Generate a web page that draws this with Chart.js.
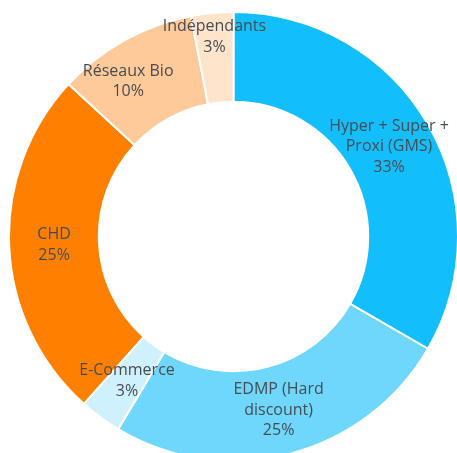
<!DOCTYPE html>
<html lang="fr">
<head>
  <meta charset="utf-8" />
  <title>Répartition des circuits de distribution</title>
  <script src="https://cdn.jsdelivr.net/npm/chart.js@4.4.1/dist/chart.umd.min.js"></script>
  <style>
    html, body { margin: 0; padding: 0; background: #fff; overflow: hidden; width: 457px; height: 453px; }
    .wrap { position: absolute; left: 8px; top: 11px; width: 451px; height: 451px; }
  </style>
</head>
<body>
  <div class="wrap"><canvas id="chart"></canvas></div>
  <script>
    // circuits, clockwise from 12 o'clock
    const categories = [
      ['Hyper + Super +', 'Proxi (GMS)'],
      ['EDMP (Hard', 'discount)'],
      ['E-Commerce'],
      ['CHD'],
      ['Réseaux Bio'],
      ['Indépendants'],
    ]
    const shares = [33, 25, 3, 25, 10, 3]
    const colors = ['#12bffc', '#6fd7fc', '#cff1fd', '#ff8000', '#ffca99', '#ffe4cc']

    // a couple of labels sit off the arc centre in the original
    const labelShift = { 4: [-18, 2], 5: [-2, -21] }

    const sliceLabels = {
      id: 'sliceLabels',
      afterDatasetsDraw(chart) {
        const { ctx } = chart
        const meta = chart.getDatasetMeta(0)
        ctx.save()
        ctx.font = '16px "Open Sans", sans-serif'
        ctx.fillStyle = '#474c52'
        ctx.textAlign = 'center'
        ctx.textBaseline = 'middle'
        meta.data.forEach((arc, i) => {
          const p = arc.getCenterPoint()
          const s = labelShift[i] || [0, 0]
          const lines = [...categories[i], shares[i] + '%']
          const lh = 20.5
          const y0 = p.y + s[1] - (lines.length - 1) * lh / 2
          lines.forEach((t, k) => ctx.fillText(t, p.x + s[0], y0 + k * lh))
        })
        ctx.restore()
      },
    }

    new Chart(document.getElementById('chart'), {
      type: 'doughnut',
      data: {
        labels: categories.map((c) => c.join(' ')),
        datasets: [{
          data: shares,
          backgroundColor: colors,
          borderColor: '#ffffff',
          borderWidth: 2,
        }],
      },
      options: {
        responsive: true,
        maintainAspectRatio: false,
        animation: false,
        cutout: '60%',
        layout: { padding: 0 },
        plugins: {
          legend: { display: false },
          tooltip: { enabled: false },
        },
      },
      plugins: [sliceLabels],
    })
  </script>
</body>
</html>
